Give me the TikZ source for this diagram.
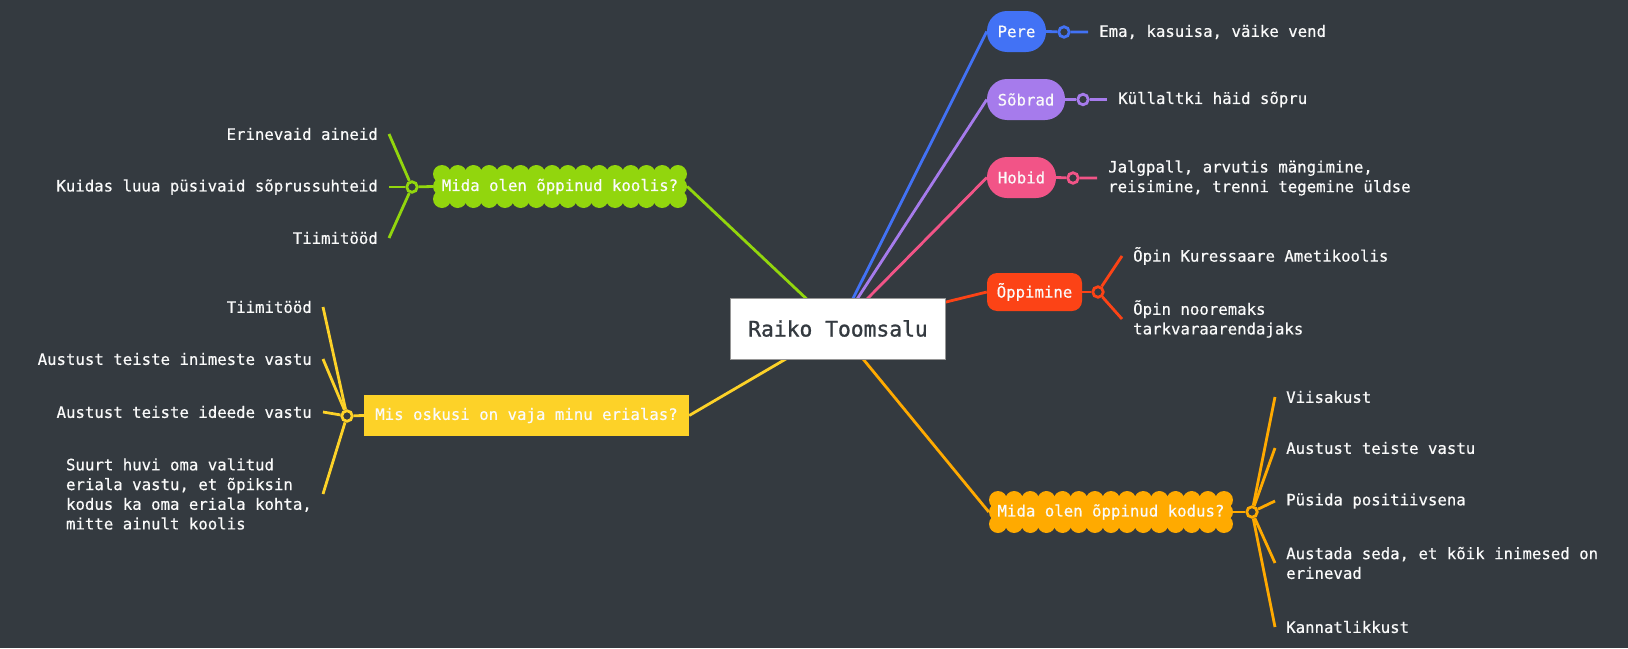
\documentclass[tikz,border=0pt]{standalone}
\usepackage{fontspec}
\setmainfont{DejaVu Sans Mono}[FakeBold=0.5]
\newfontfamily\cfont{DejaVu Sans Mono}[FakeBold=1.2]
\definecolor{bgc}{RGB}{52,58,64}
\definecolor{txt}{RGB}{250,250,250}
\definecolor{ctxt}{RGB}{52,58,64}
\definecolor{cborder}{RGB}{150,150,150}
\definecolor{cgreen}{RGB}{146,214,13}
\definecolor{cyellow}{RGB}{253,210,40}
\definecolor{cblue}{RGB}{66,114,245}
\definecolor{cpurple}{RGB}{166,123,236}
\definecolor{cpink}{RGB}{242,84,135}
\definecolor{cred}{RGB}{252,67,22}
\definecolor{corange}{RGB}{255,170,0}
\pgfdeclarelayer{bgl}
\pgfdeclarelayer{edges}
\pgfdeclarelayer{shapes}
\pgfsetlayers{bgl,edges,shapes,main}
\tikzset{
  base/.style={font=\fontsize{15.7}{19.7}\selectfont, text=txt},
  central/.style={base, font=\cfont\fontsize{21.3}{25}\selectfont, text=ctxt, fill=white, draw=cborder, line width=1pt, minimum width=215pt, minimum height=61pt, inner sep=0pt},
  pill/.style={base, rounded corners=20pt, minimum height=41pt, inner sep=0pt},
  rbox/.style={base, rounded corners=10pt, minimum height=38pt, inner sep=0pt},
  sbox/.style={base, minimum height=41pt, inner sep=0pt},
  cloudbox/.style={base, inner sep=0pt},
  dot/.style={circle, minimum size=10.5pt, inner sep=0pt, line width=2.8pt, fill=bgc},
  leaf/.style={base, inner xsep=11pt, inner ysep=0pt, align=left},
  conn/.style={line width=2.8pt},
}
\begin{document}
\begin{tikzpicture}[x=1pt,y=-1pt]
\begin{pgfonlayer}{bgl}
\fill[bgc] (0,0) rectangle (1628,648);
\end{pgfonlayer}
\useasboundingbox (0,0) rectangle (1628,648);

% central
\node[central] (c) at (838,328.5) {Raiko Toomsalu};

% right pills
\node[pill, fill=cblue, minimum width=59pt] (pere) at (1016.5,31.5) {Pere};
\node[pill, fill=cpurple, minimum width=78pt] (sob) at (1026,99.5) {Sõbrad};
\node[pill, fill=cpink, minimum width=69pt] (hob) at (1021.5,177.5) {Hobid};
\node[rbox, fill=cred, minimum width=95pt] (opp) at (1034.5,292) {Õppimine};

% clouds and rectangle
\node[cloudbox, minimum width=254pt, minimum height=43pt] (gcl) at (560,186.5) {Mida olen õppinud koolis?};
\node[cloudbox, minimum width=244pt, minimum height=42pt] (ocl) at (1111,512) {Mida olen õppinud kodus?};
\node[sbox, fill=cyellow, minimum width=325pt] (yr) at (526.5,415.5) {Mis oskusi on vaja minu erialas?};

\begin{pgfonlayer}{shapes}
% green cloud: 433..687 x 165..208, r=9
\fill[cgreen] (442,174) rectangle (678,199);
\foreach \i in {0,...,15} {
  \fill[cgreen] ({442+\i*15.73},174) circle (9);
  \fill[cgreen] ({442+\i*15.73},199) circle (9);
}
\fill[cgreen] (442,186.5) circle (9);
\fill[cgreen] (678,186.5) circle (9);
% orange cloud: 989..1233 x 491..533
\fill[corange] (998,500) rectangle (1224,524);
\foreach \i in {0,...,14} {
  \fill[corange] ({998+\i*16.14},500) circle (9);
  \fill[corange] ({998+\i*16.14},524) circle (9);
}
\fill[corange] (998,512) circle (9);
\fill[corange] (1224,512) circle (9);
\end{pgfonlayer}

% circles
\node[dot, draw=cblue] (pd) at (1064,32) {};
\node[dot, draw=cpurple] (sd) at (1083,99.5) {};
\node[dot, draw=cpink] (hd) at (1073,178) {};
\node[dot, draw=cred] (od) at (1098,292) {};
\node[dot, draw=corange] (kd) at (1252,512) {};
\node[dot, draw=cgreen] (gd) at (412,187) {};
\node[dot, draw=cyellow] (yd) at (347,416) {};

% leaves right
\node[leaf, anchor=west] (p1) at (1088,32) {Ema, kasuisa, väike vend};
\node[leaf, anchor=west] (s1) at (1107,99.5) {Küllaltki häid sõpru};
\node[leaf, anchor=west] (h1) at (1097,178) {Jalgpall, arvutis mängimine,\\reisimine, trenni tegemine üldse};
\node[leaf, anchor=west] (o1) at (1122,256) {Õpin Kuressaare Ametikoolis};
\node[leaf, anchor=west] (o2) at (1122,319) {Õpin nooremaks\\tarkvaraarendajaks};
\node[leaf, anchor=west] (k1) at (1275,397) {Viisakust};
\node[leaf, anchor=west] (k2) at (1275,448) {Austust teiste vastu};
\node[leaf, anchor=west] (k3) at (1275,501) {Püsida positiivsena};
\node[leaf, anchor=west] (k4) at (1275,563) {Austada seda, et kõik inimesed on\\erinevad};
\node[leaf, anchor=west] (k5) at (1275,627) {Kannatlikkust};

% leaves left
\node[leaf, anchor=east] (g1) at (389,134) {Erinevaid aineid};
\node[leaf, anchor=east] (g2) at (389,187) {Kuidas luua püsivaid sõprussuhteid};
\node[leaf, anchor=east] (g3) at (389,238) {Tiimitööd};
\node[leaf, anchor=east] (y1) at (323,307) {Tiimitööd};
\node[leaf, anchor=east] (y2) at (323,359) {Austust teiste inimeste vastu};
\node[leaf, anchor=east] (y3) at (323,412) {Austust teiste ideede vastu};
\node[leaf, anchor=east] (y4) at (323,494) {Suurt huvi oma valitud\\eriala vastu, et õpiksin\\kodus ka oma eriala kohta,\\mitte ainult koolis};

\begin{pgfonlayer}{edges}
\draw[conn, cblue] (c.center) -- (pere.west);
\draw[conn, cpurple] (c.center) -- (sob.west);
\draw[conn, cpink] (c.center) -- (hob.west);
\draw[conn, cred] (c.center) -- (opp.west);
\draw[conn, corange] (c.center) -- (ocl.west);
\draw[conn, cgreen] (c.center) -- (gcl.east);
\draw[conn, cyellow] (c.center) -- (yr.east);

\draw[conn, cblue] (pere.east) -- (pd) -- (p1.west);
\draw[conn, cpurple] (sob.east) -- (sd) -- (s1.west);
\draw[conn, cpink] (hob.east) -- (hd) -- (h1.west);
\draw[conn, cred] (opp.east) -- (od);
\draw[conn, cred] (od) -- (o1.west);
\draw[conn, cred] (od) -- (o2.west);
\draw[conn, corange] (ocl.east) -- (kd);
\foreach \n in {k1,k2,k3,k4,k5} \draw[conn, corange] (kd) -- (\n.west);
\draw[conn, cgreen] (gcl.west) -- (gd);
\foreach \n in {g1,g2,g3} \draw[conn, cgreen] (gd) -- (\n.east);
\draw[conn, cyellow] (yr.west) -- (yd);
\foreach \n in {y1,y2,y3,y4} \draw[conn, cyellow] (yd) -- (\n.east);
\end{pgfonlayer}
\end{tikzpicture}
\end{document}
